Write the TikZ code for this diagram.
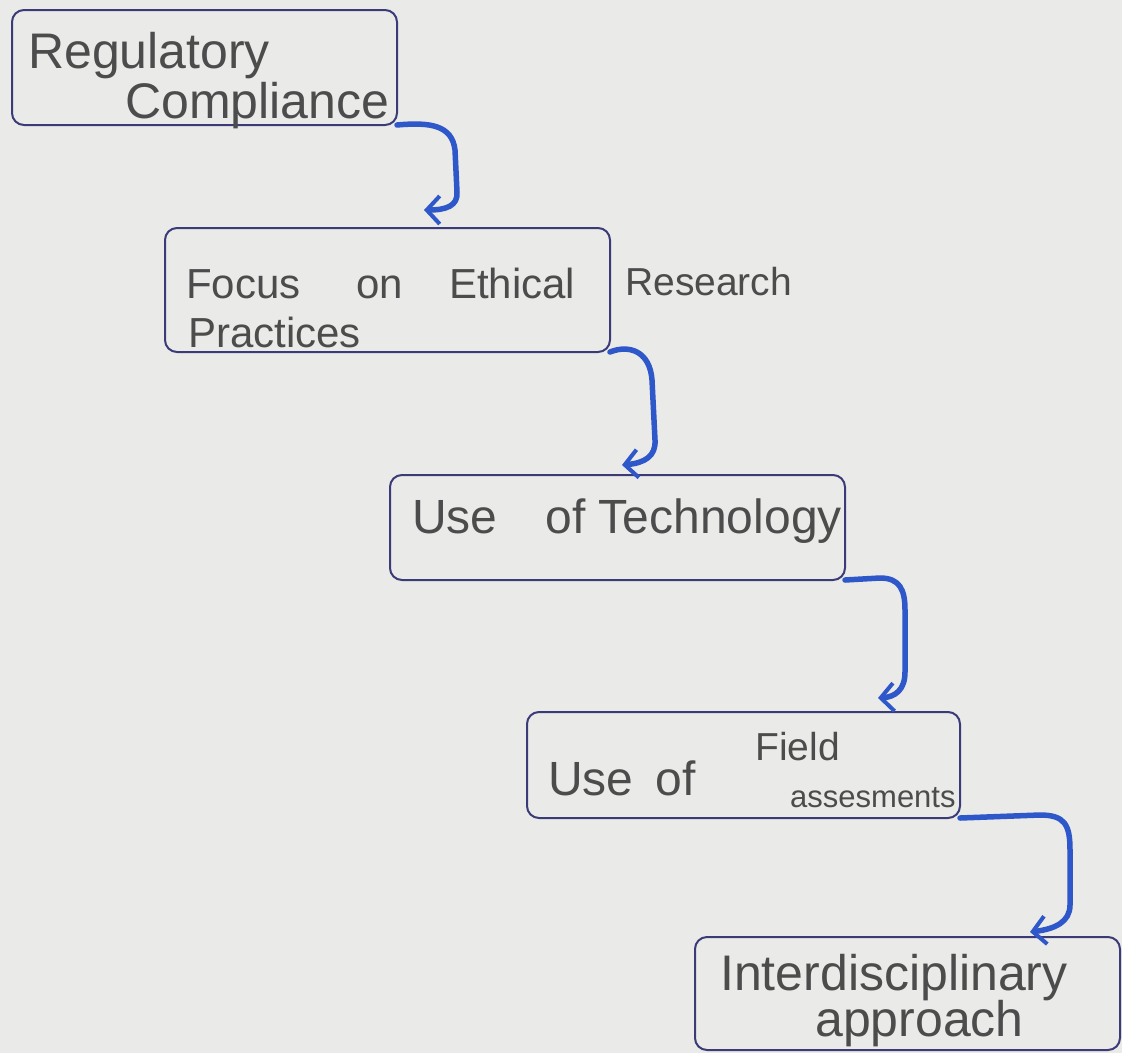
\documentclass[tikz,border=0pt]{standalone}
\usepackage{fontspec}
\setmainfont{Liberation Sans}
\usetikzlibrary{arrows.meta}
\definecolor{paper}{HTML}{EAEAE8}
\definecolor{boxline}{HTML}{3B3B78}
\definecolor{ink}{HTML}{4C4C4C}
\definecolor{pen}{HTML}{2E58C9}
\begin{document}
\begin{tikzpicture}[x=1pt,y=-1pt,
  box/.style={draw=boxline, line width=2pt, rounded corners=12pt, rectangle, inner sep=0pt, outer sep=0pt},
  txt/.style={text=ink, font=\fontsize{48}{56}\selectfont, inner sep=0pt, anchor=base west},
  bigtxt/.style={text=ink, font=\fontsize{50}{58}\selectfont, inner sep=0pt, anchor=base west},
  tighttxt/.style={text=ink, font=\fontsize{42}{48}\selectfont, inner sep=0pt, anchor=base west},
  midtxt/.style={text=ink, font=\fontsize{39}{46}\selectfont, inner sep=0pt, anchor=base west},
  smalltxt/.style={text=ink, font=\fontsize{31}{36}\selectfont, inner sep=0pt, anchor=base west},
  flow/.style={draw=pen, line width=5.5pt, line cap=round, line join=round, -{Straight Barb[length=13pt,width=28pt,line width=4pt]}}
]
\fill[paper] (0,0) rectangle (1122,1053);
\useasboundingbox (0,0) rectangle (1122,1053);

% boxes
\node[box, minimum width=385pt, minimum height=115pt] (b1) at (204.5,67.5) {};
\node[box, minimum width=445pt, minimum height=124pt] (b2) at (387.5,290) {};
\node[box, minimum width=455pt, minimum height=105pt] (b3) at (617.5,527.5) {};
\node[box, minimum width=433pt, minimum height=106pt] (b4) at (743.5,765) {};
\node[box, minimum width=425pt, minimum height=113pt] (b5) at (907.5,993.5) {};

% texts
\node[bigtxt] (t1a) at (28,68) {Regulatory};
\node[bigtxt] (t1b) at (125,118) {Compliance};
\node[tighttxt] (t2a) at (186,298) {Focus\hspace{56pt}on\hspace{46pt}Ethical};
\node[tighttxt] (t2b) at (188,347) {Practices};
\node[midtxt] (t2c) at (625,295) {Research};
\node[txt] (t3) at (412,533) {Use\hspace{48pt}of Technology};
\node[txt] (t4a) at (548,795) {Use\hspace{22pt}of};
\node[midtxt] (t4b) at (755,760) {Field};
\node[smalltxt] (t4c) at (790,807) {assesments};
\node[bigtxt] (t5a) at (720,990) {Interdisciplinary};
\node[bigtxt] (t5b) at (815,1036) {approach};

% arrow ends
\coordinate (e1) at (424,210);
\coordinate (e2) at (622,465);
\coordinate (e3) at (878,698);
\coordinate (e4) at (1030,932);

% connectors
\draw[flow] (b1.south east) .. controls (430,122) and (452,125) .. (455,150)
  -- (457,192) .. controls (458,206) and (446,210) .. (e1);
\draw[flow] (b2.south east) .. controls (630,344) and (650,352) .. (652,380)
  -- (655,440) .. controls (656,456) and (645,463) .. (e2);
\draw[flow] (b3.south east) -- (880,578) .. controls (900,578) and (905,590) .. (905,610)
  -- (905,672) .. controls (905,690) and (895,697) .. (e3);
\draw[flow] (b4.south east) -- (1040,815) .. controls (1065,815) and (1070,825) .. (1070,850)
  -- (1070,905) .. controls (1070,922) and (1055,929) .. (e4);
\end{tikzpicture}
\end{document}
